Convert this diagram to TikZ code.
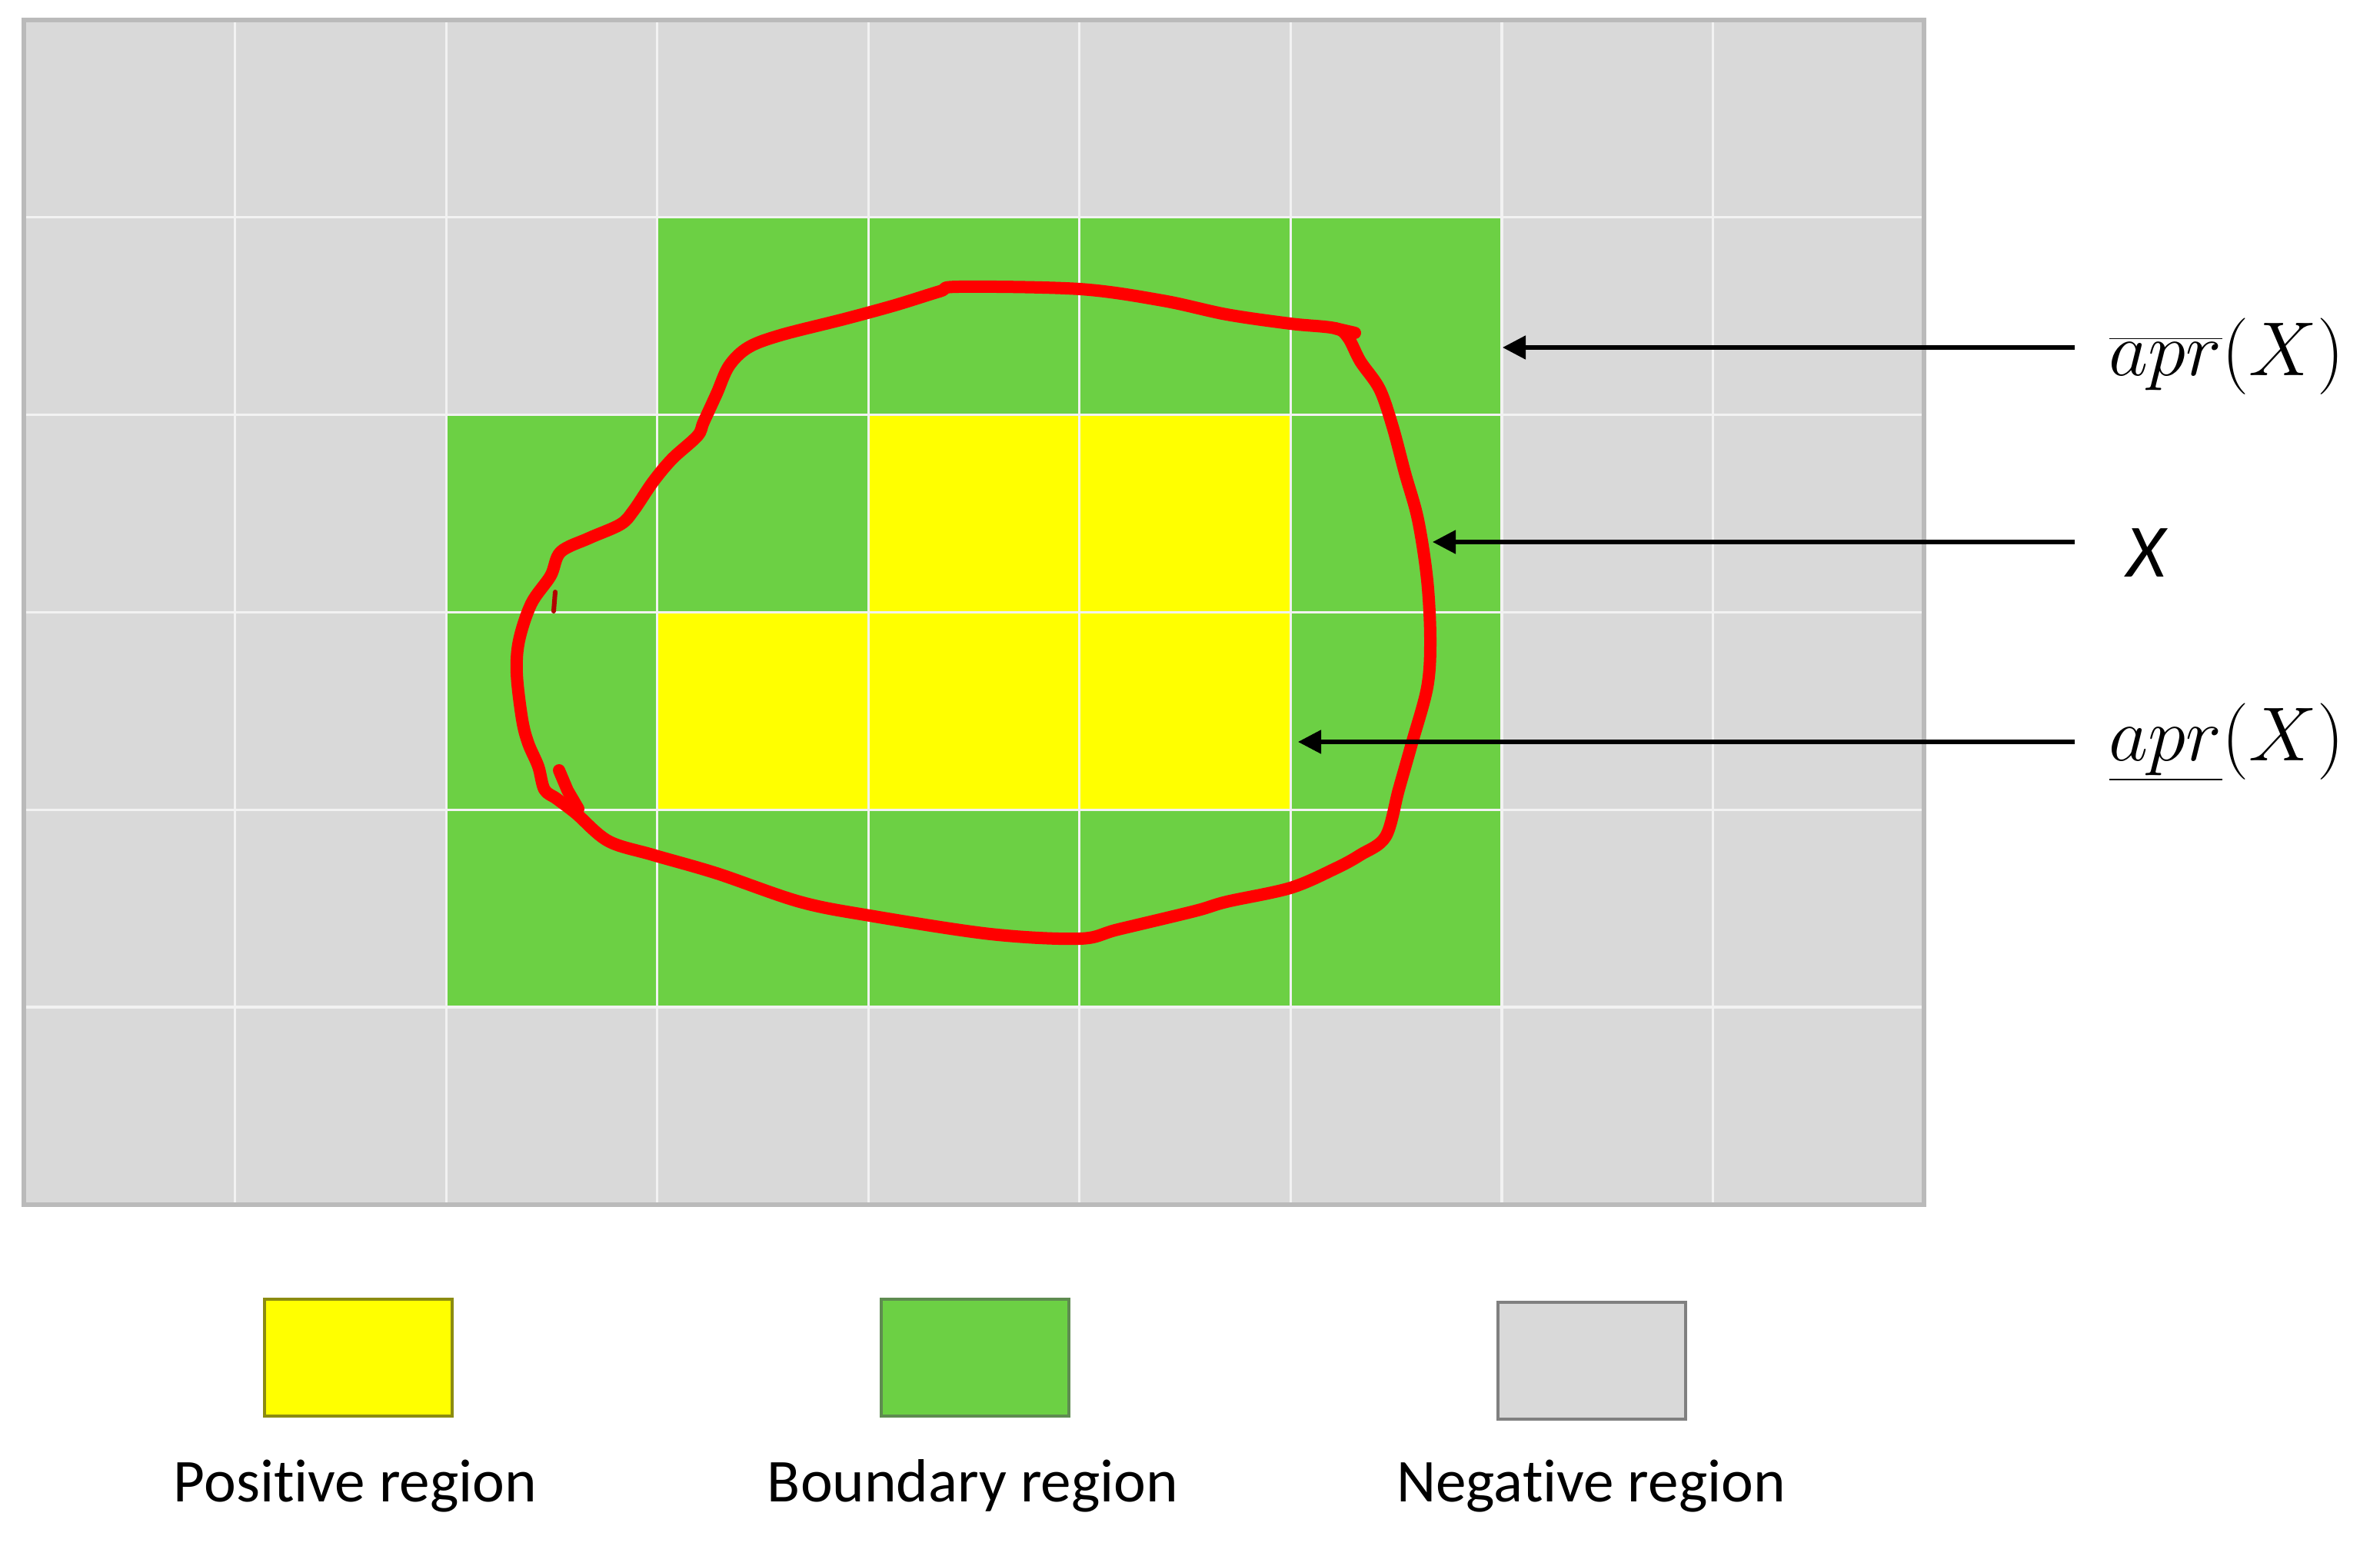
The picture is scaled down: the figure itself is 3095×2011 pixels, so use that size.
\documentclass[tikz,border=0pt]{standalone}
\usepackage[no-math]{fontspec}
\setmainfont{Carlito}[Ligatures=NoCommon]
\usetikzlibrary{arrows.meta}
\definecolor{negc}{HTML}{D9D9D9}
\definecolor{bndc}{HTML}{6CD044}
\definecolor{posc}{HTML}{FFFF00}
\definecolor{gridc}{HTML}{F2F2F2}
\definecolor{framec}{HTML}{BABABA}
\definecolor{posb}{HTML}{8C8C10}
\definecolor{bndb}{HTML}{5E8C50}
\definecolor{negb}{HTML}{808080}
\tikzset{
  gridline/.style={draw=gridc, line width=0.8pt},
  framebox/.style={draw=framec, line width=1.6pt},
  xcurve/.style={draw=red, line width=4pt, line cap=round, line join=round},
  pointer/.style={draw=black, line width=1.3pt, -{Triangle[length=7.5pt,width=7.5pt]}},
  mathlab/.style={inner sep=0pt, font=\fontsize{24.5}{29}\selectfont},
  legbox/.style={minimum width=61pt, minimum height=38pt, inner sep=0pt, line width=0.9pt},
  legtext/.style={inner sep=0pt, font=\fontsize{19.8}{24}\selectfont},
}
\begin{document}
\begin{tikzpicture}[x={(0.25pt,0)}, y={(0,-0.25pt)}]
\useasboundingbox (0,0) rectangle (3095,2011);
\def\cw{274.56}
\def\ch{256.8}
% base grid
\fill[negc] (31,26) rectangle (2502,1567);
% boundary region
\fill[bndc] ({31+3*\cw},{26+1*\ch}) rectangle ({31+7*\cw},{26+2*\ch});
\fill[bndc] ({31+2*\cw},{26+2*\ch}) rectangle ({31+7*\cw},{26+5*\ch});
% positive region
\fill[posc] ({31+4*\cw},{26+2*\ch}) rectangle ({31+6*\cw},{26+3*\ch});
\fill[posc] ({31+3*\cw},{26+3*\ch}) rectangle ({31+6*\cw},{26+4*\ch});
% grid lines
\foreach \i in {1,...,8} \draw[gridline] ({31+\i*\cw},26) -- ({31+\i*\cw},1567);
\foreach \j in {1,...,5} \draw[gridline] (31,{26+\j*\ch}) -- (2502,{26+\j*\ch});
\draw[framebox] (31,26) rectangle (2502,1567);
% the set X
\draw[xcurve] plot[smooth cycle, tension=0.55] coordinates {
(1247,373) (1404,376) (1512,391) (1595,409) (1678,421) (1736,427) (1753,439)
(1769,470) (1794,506) (1811,555) (1827,615) (1844,676) (1856,755) (1860,833)
(1856,894) (1836,967) (1819,1027) (1802,1088) (1769,1112) (1736,1130) (1678,1155)
(1595,1173) (1554,1185) (1454,1209) (1404,1221) (1288,1215) (1131,1191) (1040,1173)
(932,1136) (849,1112) (791,1094) (749,1058) (724,1039) (708,1027) (700,997)
(687,967) (679,936) (672,876) (675,833) (691,785) (716,749) (729,718) (766,700)
(807,682) (824,664) (849,627) (874,597) (907,567) (915,549) (932,512) (948,476)
(973,452) (1015,436) (1098,415) (1164,397) (1222,379)};
\draw[xcurve] (727,1002) -- (738,1028) -- (752,1052);
\draw[xcurve, line width=1.5pt, draw=red!70!black] (720,795) -- (722,770);
\draw[xcurve] (1736,427) -- (1762,433);
% labels
\node[mathlab, anchor=base west] (upper) at (2742,489) {$\overline{apr}(X)$};
\node[inner sep=0pt, anchor=base west, font=\fontsize{24.5}{28}\selectfont\itshape] (xlab) at (2765,750) {X};
\node[mathlab, anchor=base west] (lower) at (2742,989) {$\underline{apr}(X)$};
\coordinate (s1) at (2698,452);
\coordinate (t1) at (1954,452);
\coordinate (s2) at (2698,705);
\coordinate (t2) at (1863,705);
\coordinate (s3) at (2698,965);
\coordinate (t3) at (1688,965);
\draw[pointer] (s1) -- (t1);
\draw[pointer] (s2) -- (t2);
\draw[pointer] (s3) -- (t3);
% legend
\node[legbox, fill=posc, draw=posb] (lpos) at (466,1766) {};
\node[legbox, fill=bndc, draw=bndb] (lbnd) at (1268,1766) {};
\node[legbox, fill=negc, draw=negb] (lneg) at (2070,1770) {};
\node[legtext, anchor=base] (tpos) at (462,1953) {Positive region};
\node[legtext, anchor=base] (tbnd) at (1265,1953) {Boundary region};
\node[legtext, anchor=base] (tneg) at (2069,1953) {Negative region};
\end{tikzpicture}
\end{document}
